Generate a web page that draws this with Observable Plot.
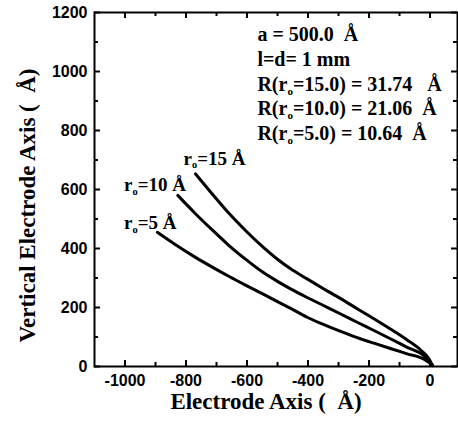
<!DOCTYPE html>
<html><head><meta charset="utf-8">
<script src="https://cdn.jsdelivr.net/npm/d3@7"></script>
<script src="https://cdn.jsdelivr.net/npm/@observablehq/plot@0.6"></script>
<style>body{margin:0;background:#fff} svg{display:block}</style>
</head><body><div id="chart"></div>
<script>
// Curves (electrode axis in Å, vertical electrode axis in Å)
const seriesNames = ["r0=15", "r0=10", "r0=5"];
const r15x = [-769, -714, -660, -605, -550, -496, -457, -403, -348, -293, -239, -184, -130, -75, -31, -4, 8];
const r15y = [653, 585, 520, 461, 407, 360, 331, 297, 263, 230, 196, 162, 127, 90, 56, 27, 3];
const r10x = [-827, -769, -714, -660, -605, -550, -496, -457, -403, -348, -293, -239, -184, -130, -75, -20, 8];
const r10y = [580, 518, 463, 411, 364, 321, 286, 263, 234, 206, 178, 150, 122, 94, 65, 36, 4];
const r5x = [-894, -823, -769, -714, -660, -605, -550, -500, -457, -403, -348, -293, -239, -184, -130, -75, -20, 8];
const r5y = [455, 405, 370, 337, 306, 276, 247, 220, 197, 167, 142, 119, 98, 79, 61, 43, 25, 5];

const xTicks = [-1000, -800, -600, -400, -200, 0];
const xMinor = [-900, -700, -500, -300, -100];
const yTicks = [0, 200, 400, 600, 800, 1000, 1200];
const yMinor = [100, 300, 500, 700, 900, 1100];

const curveLabels = ["r\u2092=15 \u00c5", "r\u2092=10 \u00c5", "r\u2092=5 \u00c5"];
const curveLabelX = [-808, -1003, -1003];
const curveLabelY = [705, 614, 486];

const noteLines = ["a = 500.0\u00a0\u00a0\u00c5", "l=d= 1 mm", "R(r\u2092=15.0) = 31.74\u00a0\u00a0\u00a0\u00c5",
  "R(r\u2092=10.0) = 21.06\u00a0\u00a0\u00c5", "R(r\u2092=5.0) = 10.64\u00a0\u00a0\u00c5"];
const noteX = [-566, -566, -566, -566, -566];
const noteY = [1124, 1039, 954, 873, 788];

const xLabel = "Electrode Axis (\u00a0\u00a0\u00c5)";
const yLabel = "Vertical Electrode Axis (\u00a0\u00a0\u00c5)";

const curves = [[r15x, r15y], [r10x, r10y], [r5x, r5y]].flatMap(([xs, ys], k) =>
  xs.map((x, i) => ({series: seriesNames[k], x, y: ys[i]})));
const labels = curveLabels.map((t, i) => ({t, x: curveLabelX[i], y: curveLabelY[i]}));
const notes = noteLines.map((t, i) => ({t, x: noteX[i], y: noteY[i]}));

const W = 458, H = 425, mL = 94, mR = 1, mT = 12, mB = 59;
const fw = W - mL - mR, fh = H - mT - mB;
const serif = "'Liberation Serif', 'Times New Roman', serif";
const sans = "'Liberation Sans', Arial, sans-serif";

const chart = Plot.plot({
  width: W, height: H,
  marginLeft: mL, marginRight: mR, marginTop: mT, marginBottom: mB,
  style: {background: "#fff", color: "#000"},
  x: {domain: [-1100, 90]},
  y: {domain: [0, 1200]},
  marks: [
    Plot.frame({stroke: "#000", strokeWidth: 2}),
    // inward ticks
    Plot.ruleX(xTicks, {x: d => d, insetTop: fh - 6, stroke: "#000", strokeWidth: 2}),
    Plot.ruleX(xTicks, {x: d => d, insetBottom: fh - 6, stroke: "#000", strokeWidth: 2}),
    Plot.ruleX(xMinor, {x: d => d, insetTop: fh - 4, stroke: "#000", strokeWidth: 2}),
    Plot.ruleX(xMinor, {x: d => d, insetBottom: fh - 4, stroke: "#000", strokeWidth: 2}),
    Plot.ruleY(yTicks, {y: d => d, insetRight: fw - 6, stroke: "#000", strokeWidth: 2}),
    Plot.ruleY(yTicks, {y: d => d, insetLeft: fw - 6, stroke: "#000", strokeWidth: 2}),
    Plot.ruleY(yMinor, {y: d => d, insetRight: fw - 4, stroke: "#000", strokeWidth: 2}),
    Plot.ruleY(yMinor, {y: d => d, insetLeft: fw - 4, stroke: "#000", strokeWidth: 2}),
    Plot.axisX(xTicks, {tickSize: 0, tickPadding: 8, tickFormat: d => String(d), fontSize: 16, fontWeight: "bold", fontFamily: sans, label: null}),
    Plot.axisY(yTicks, {tickSize: 0, tickPadding: 7, tickFormat: d => String(d), fontSize: 16, fontWeight: "bold", fontFamily: sans, label: null}),
    Plot.line(curves, {x: "x", y: "y", z: "series", stroke: "#000", strokeWidth: 3, curve: "monotone-x", strokeLinecap: "round"}),
    Plot.text(labels, {x: "x", y: "y", text: "t", textAnchor: "start", lineAnchor: "middle", fontSize: 19, fontWeight: "bold", fontFamily: serif, fill: "#000"}),
    Plot.text(notes, {x: "x", y: "y", text: "t", textAnchor: "start", lineAnchor: "middle", fontSize: 20, fontWeight: "bold", fontFamily: serif, fill: "#000"}),
    Plot.text([xLabel], {text: d => d, frameAnchor: "bottom", textAnchor: "middle", dx: -10, dy: 35, lineAnchor: "middle", fontSize: 23, fontWeight: "bold", fontFamily: serif, fill: "#000"}),
    Plot.text([yLabel], {text: d => d, frameAnchor: "left", textAnchor: "middle", dx: -67, dy: 16, rotate: -90, lineAnchor: "middle", fontSize: 23, fontWeight: "bold", fontFamily: serif, fill: "#000"})
  ]
});
document.getElementById("chart").appendChild(chart);

// render the subscript "o" as a real lowered small letter
d3.select(chart).selectAll("text").each(function() {
  const t = this.textContent;
  if (!t.includes("\u2092")) return;
  const fs = parseFloat(getComputedStyle(this).fontSize) || 16;
  const parts = t.split("\u2092");
  const sel = d3.select(this);
  sel.text(null);
  parts.forEach((p, i) => {
    if (i > 0) {
      sel.append("tspan").attr("dy", (0.18 * fs) + "px").attr("font-size", (0.55 * fs) + "px").text("o");
      sel.append("tspan").attr("dy", (-0.18 * fs) + "px").text(p);
    } else {
      sel.append("tspan").text(p);
    }
  });
});
</script>
</body></html>
